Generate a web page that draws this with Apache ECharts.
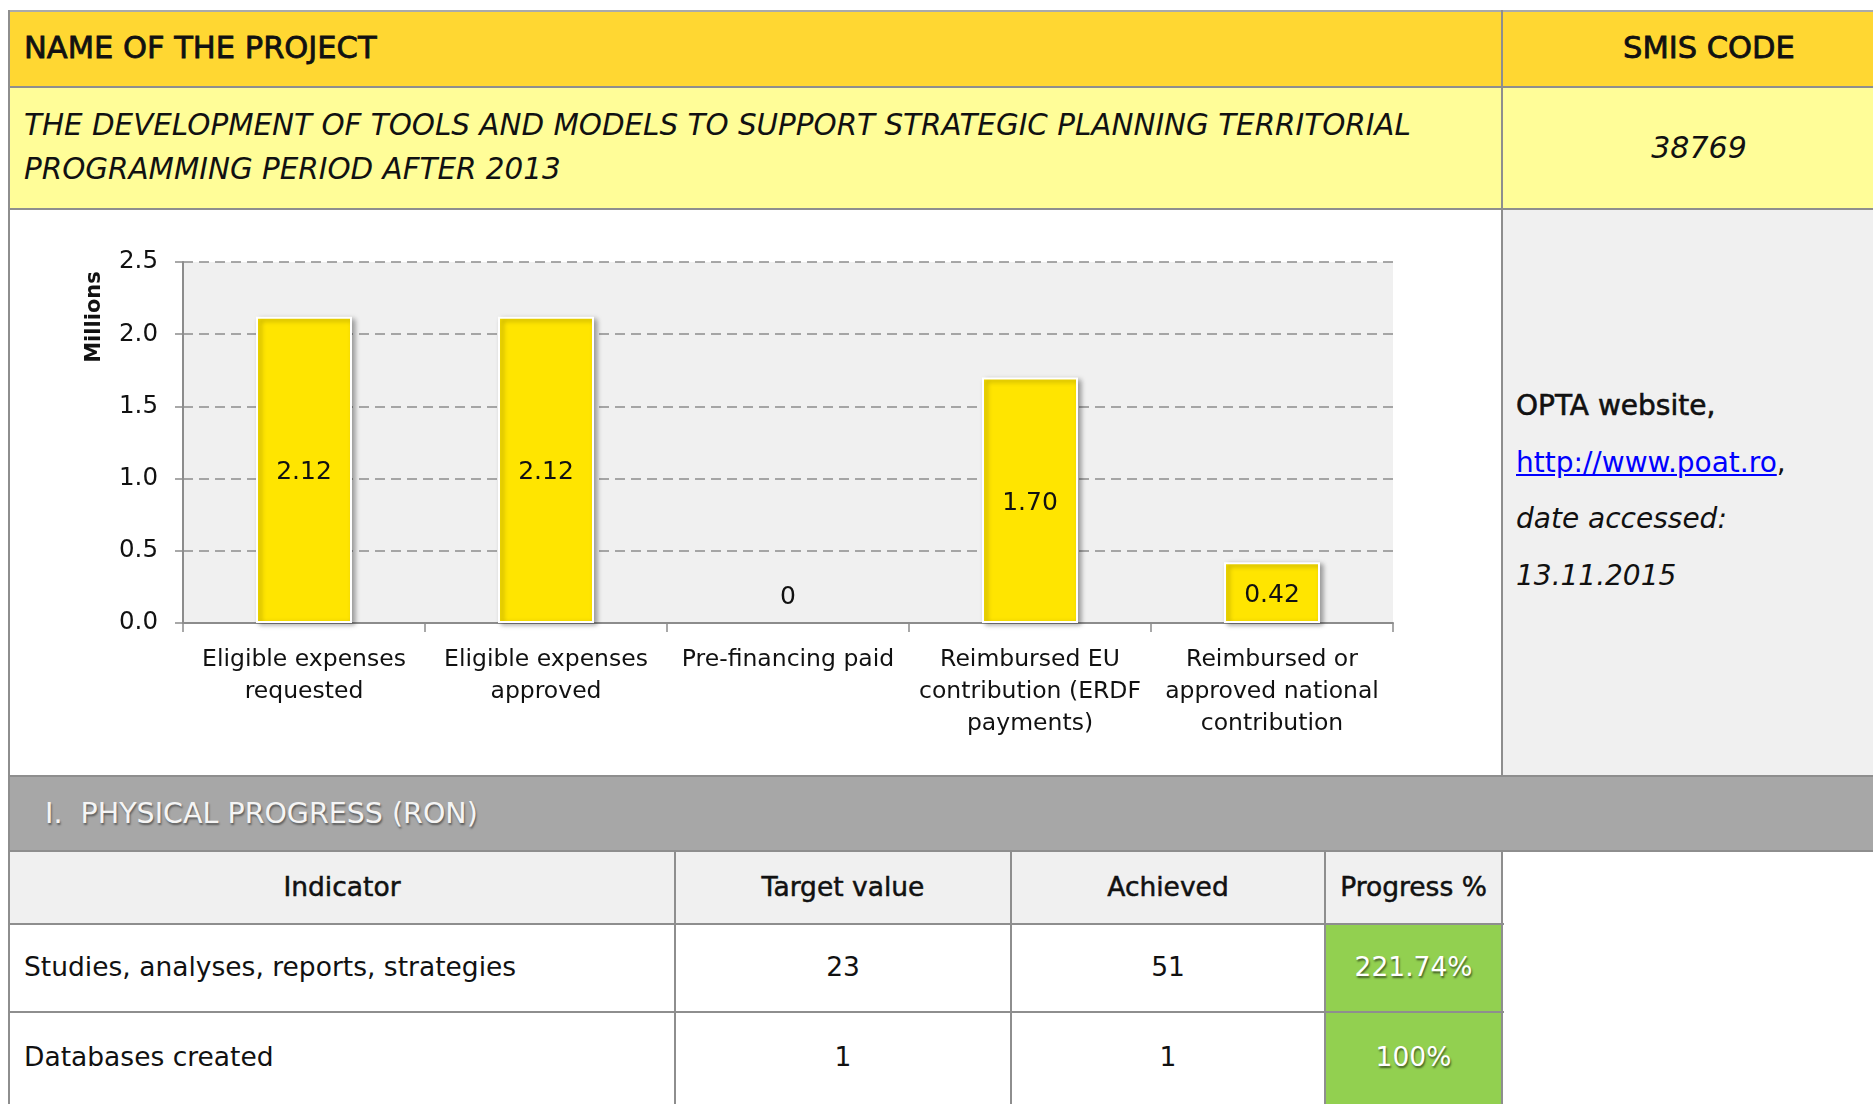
<!DOCTYPE html>
<html>
<head>
<meta charset="utf-8">
<script src="https://cdn.jsdelivr.net/npm/echarts@6/dist/echarts.min.js"></script>
<style>
html,body{margin:0;padding:0;background:#fff;width:1873px;height:1104px;overflow:hidden;font-family:"DejaVu Sans",sans-serif;color:#111;}
.bg{position:absolute;}
.hl{position:absolute;height:2px;background:#8e8e8e;}
.vl{position:absolute;width:2px;background:#8e8e8e;}
.t{position:absolute;white-space:pre;}
.c{text-align:center;}
.hd{font-size:26.5px;-webkit-text-stroke:0.5px #111;}
.cell{font-size:26.5px;}
.pct{font-size:26.5px;color:#fff;text-shadow:1px 2px 2px rgba(0,0,0,0.55);}
.hdr{font-size:30.5px;-webkit-text-stroke:0.8px #111;}
</style>
</head>
<body>
<!-- backgrounds -->
<div class="bg" style="left:9px;top:11px;width:1864px;height:76px;background:#FFD732;"></div>
<div class="bg" style="left:9px;top:87px;width:1864px;height:122px;background:#FFFD98;"></div>
<div class="bg" style="left:1502px;top:209px;width:371px;height:567px;background:#F0F0F0;"></div>
<div class="bg" style="left:9px;top:776px;width:1864px;height:75px;background:#A7A7A7;"></div>
<div class="bg" style="left:9px;top:851px;width:1493px;height:73px;background:#F0F0F0;"></div>
<div class="bg" style="left:1325px;top:924px;width:177px;height:200px;background:#92D050;"></div>

<!-- chart -->
<div id="chart" style="position:absolute;left:10px;top:210px;width:1491px;height:565px;"></div>

<!-- lines -->
<div class="hl" style="left:8px;top:10px;width:1865px;background:#aaa;"></div>
<div class="hl" style="left:8px;top:86px;width:1865px;"></div>
<div class="hl" style="left:8px;top:208px;width:1865px;"></div>
<div class="hl" style="left:8px;top:775px;width:1865px;"></div>
<div class="hl" style="left:8px;top:850px;width:1865px;"></div>
<div class="hl" style="left:8px;top:923px;width:1496px;"></div>
<div class="hl" style="left:8px;top:1011px;width:1496px;"></div>
<div class="vl" style="left:8px;top:10px;height:1094px;"></div>
<div class="vl" style="left:1501px;top:10px;height:766px;"></div>
<div class="vl" style="left:1501px;top:850px;height:254px;"></div>
<div class="vl" style="left:674px;top:850px;height:254px;"></div>
<div class="vl" style="left:1010px;top:850px;height:254px;"></div>
<div class="vl" style="left:1324px;top:850px;height:254px;"></div>

<!-- header texts -->
<div class="t hdr" style="left:24px;top:31px;line-height:34px;">NAME OF THE PROJECT</div>
<div class="t c hdr" style="left:1509px;width:400px;top:31px;line-height:34px;">SMIS CODE</div>
<div class="t" style="left:24px;top:103px;line-height:44px;font-size:29.4px;font-style:italic;">THE DEVELOPMENT OF TOOLS AND MODELS TO SUPPORT STRATEGIC PLANNING TERRITORIAL
PROGRAMMING PERIOD AFTER 2013</div>
<div class="t c" style="left:1499px;width:400px;top:128px;line-height:40px;font-size:30px;font-style:italic;">38769</div>

<!-- source cell -->
<div class="t" style="left:1516px;top:378px;line-height:56.7px;font-size:28px;"><span style="-webkit-text-stroke:0.6px #111;">OPTA website,</span>
<span style="color:#0000ff;text-decoration:underline;">http://www.poat.ro</span>,
<i>date accessed:</i>
<i>13.11.2015</i></div>

<!-- band -->
<div class="t" style="left:45px;top:794px;line-height:40px;font-size:28.5px;color:#f5f5f5;text-shadow:1px 2px 2px rgba(0,0,0,0.45);">I.  PHYSICAL PROGRESS (RON)</div>

<!-- table header -->
<div class="t c hd" style="left:9px;width:666px;top:867px;line-height:40px;">Indicator</div>
<div class="t c hd" style="left:675px;width:336px;top:867px;line-height:40px;">Target value</div>
<div class="t c hd" style="left:1011px;width:314px;top:867px;line-height:40px;">Achieved</div>
<div class="t c hd" style="left:1325px;width:177px;top:867px;line-height:40px;">Progress %</div>

<!-- rows -->
<div class="t cell" style="left:24px;top:947px;line-height:40px;">Studies, analyses, reports, strategies</div>
<div class="t c cell" style="left:675px;width:336px;top:947px;line-height:40px;">23</div>
<div class="t c cell" style="left:1011px;width:314px;top:947px;line-height:40px;">51</div>
<div class="t c pct" style="left:1325px;width:177px;top:947px;line-height:40px;">221.74%</div>

<div class="t cell" style="left:24px;top:1037px;line-height:40px;">Databases created</div>
<div class="t c cell" style="left:675px;width:336px;top:1037px;line-height:40px;">1</div>
<div class="t c cell" style="left:1011px;width:314px;top:1037px;line-height:40px;">1</div>
<div class="t c pct" style="left:1325px;width:177px;top:1037px;line-height:40px;">100%</div>

<script>
const categories = [
  'Eligible expenses\nrequested',
  'Eligible expenses\napproved',
  'Pre-financing paid',
  'Reimbursed EU\ncontribution (ERDF\npayments)',
  'Reimbursed or\napproved national\ncontribution'
];
const values = [2.12, 2.12, 0, 1.70, 0.42];
const yTicks = [0.0, 0.5, 1.0, 1.5, 2.0, 2.5];
const axisTitle = 'Millions';

const chart = echarts.init(document.getElementById('chart'));
const axisGray = '#8c8c8c';
chart.setOption({
  animation: false,
  grid: {left: 173, top: 52, width: 1210, height: 361, show: true, backgroundColor: '#F0F0F0', borderWidth: 0},
  xAxis: {
    type: 'category',
    data: categories,
    axisLine: {lineStyle: {color: axisGray, width: 2}},
    axisTick: {show: true, length: 9, lineStyle: {color: axisGray, width: 1.5}},
    axisLabel: {interval: 0, color: '#111', fontFamily: 'DejaVu Sans', fontSize: 23.5, lineHeight: 32, margin: 21}
  },
  yAxis: {
    type: 'value',
    min: yTicks[0],
    max: yTicks[yTicks.length - 1],
    interval: yTicks[1] - yTicks[0],
    axisLine: {show: true, lineStyle: {color: axisGray, width: 2}},
    axisTick: {show: true, length: 8, lineStyle: {color: axisGray, width: 1.5}},
    axisLabel: {formatter: v => v.toFixed(1), color: '#111', fontFamily: 'DejaVu Sans', fontSize: 24.5, margin: 25},
    splitLine: {show: true, lineStyle: {color: axisGray, type: [10, 6], width: 1.5}}
  },
  graphic: [{
    type: 'text', x: 85, y: 107, rotation: Math.PI / 2,
    style: {text: axisTitle, align: 'center', verticalAlign: 'middle', fill: '#111',
      font: 'bold 21px "DejaVu Sans"'}
  }],
  series: [{
    type: 'bar',
    barWidth: 96,
    data: values.map(v => v === 0
      ? {value: v, label: {position: 'top', distance: 16},
         itemStyle: {borderWidth: 0, shadowBlur: 0, shadowOffsetX: 0, shadowOffsetY: 0, shadowColor: 'rgba(0,0,0,0)'}}
      : v),
    itemStyle: {color: '#FFE500', borderColor: '#ffffff', borderWidth: 2,
      shadowColor: 'rgba(0,0,0,0.35)', shadowBlur: 5, shadowOffsetX: 3, shadowOffsetY: 2},
    label: {show: true, position: 'inside', offset: [0, 3], color: '#111', fontFamily: 'DejaVu Sans', fontSize: 25,
      formatter: p => p.value === 0 ? '0' : p.value.toFixed(2)}
  }]
});
</script>
</body>
</html>
